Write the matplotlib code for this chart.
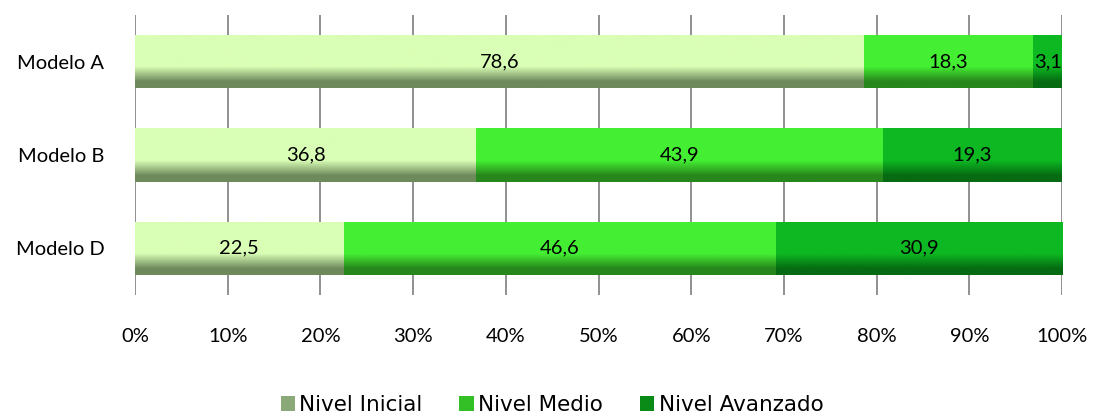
import numpy as np
import matplotlib
matplotlib.use("Agg")
import matplotlib.pyplot as plt
from matplotlib.colors import LinearSegmentedColormap
from matplotlib.patches import Patch

categories = ["Modelo A", "Modelo B", "Modelo D"]
series_names = ["Nivel Inicial", "Nivel Medio", "Nivel Avanzado"]
inicial = [78.6, 36.8, 22.5]
medio = [18.3, 43.9, 46.6]
avanzado = [3.1, 19.3, 30.9]
xticks = [0, 10, 20, 30, 40, 50, 60, 70, 80, 90, 100]
xtick_labels = ["0%", "10%", "20%", "30%", "40%", "50%", "60%", "70%", "80%", "90%", "100%"]

series = [inicial, medio, avanzado]
main_colors = ["#D9FEB5", "#44EF33", "#0DB822"]
shade_colors = ["#6E8A5C", "#27871C", "#066B12"]
legend_colors = ["#8AA878", "#33C026", "#0A8A16"]

plt.rcParams['font.family'] = ['Lato', 'DejaVu Sans']
fig = plt.figure(figsize=(10.94, 4.16), dpi=100)
ax = fig.add_axes([135/1094, 1-295/416, (1062-135)/1094, (295-15)/416])

y = np.arange(len(categories))
left = np.zeros(len(categories))
h = 0.57
for vals, mc, sc in zip(series, main_colors, shade_colors):
    bars = ax.barh(y, vals, left=left, height=h, color=mc, edgecolor='none', zorder=2)
    cmap = LinearSegmentedColormap.from_list("g", [(0, mc), (0.6, mc), (0.88, sc), (1, sc)])
    grad = np.linspace(0, 1, 200).reshape(-1, 1)
    for b, v, l in zip(bars, vals, left):
        x0, y0 = b.get_x(), b.get_y()
        w, hh = b.get_width(), b.get_height()
        im = ax.imshow(grad, aspect='auto', cmap=cmap, extent=(x0, x0 + w, y0 + hh, y0),
                       origin='upper', zorder=2.5, interpolation='bilinear')
        im.set_clip_path(b)
        ax.text(l + v / 2, b.get_y() + hh / 2, f"{v:.1f}".replace('.', ','),
                ha='center', va='center', fontsize=14.5, color='black', zorder=4)
    left = left + np.array(vals)

ax.set_xlim(0, 100)
ax.set_ylim(2.5, -0.5)
ax.set_yticks(y)
ax.set_yticklabels(categories, fontsize=14.5)
ax.set_xticks(xticks)
ax.set_xticklabels(xtick_labels, fontsize=14.5)
ax.tick_params(axis='y', length=0, pad=22)
ax.tick_params(axis='x', length=0, pad=24)
ax.grid(axis='x', color='#888888', linewidth=1.3, zorder=1)
for s in ax.spines.values():
    s.set_visible(False)
ax.set_facecolor('white')

handles = [Patch(facecolor=c, edgecolor='none', label=n) for c, n in zip(legend_colors, series_names)]
fig.legend(handles=handles, loc='center', bbox_to_anchor=(552/1094, 1-405/416), ncol=3,
           frameon=False, prop={'family': 'DejaVu Sans', 'size': 15.5},
           handlelength=0.68, handleheight=0.68,
           handletextpad=0.2, columnspacing=1.7)

fig.savefig("out.png", dpi=100)
